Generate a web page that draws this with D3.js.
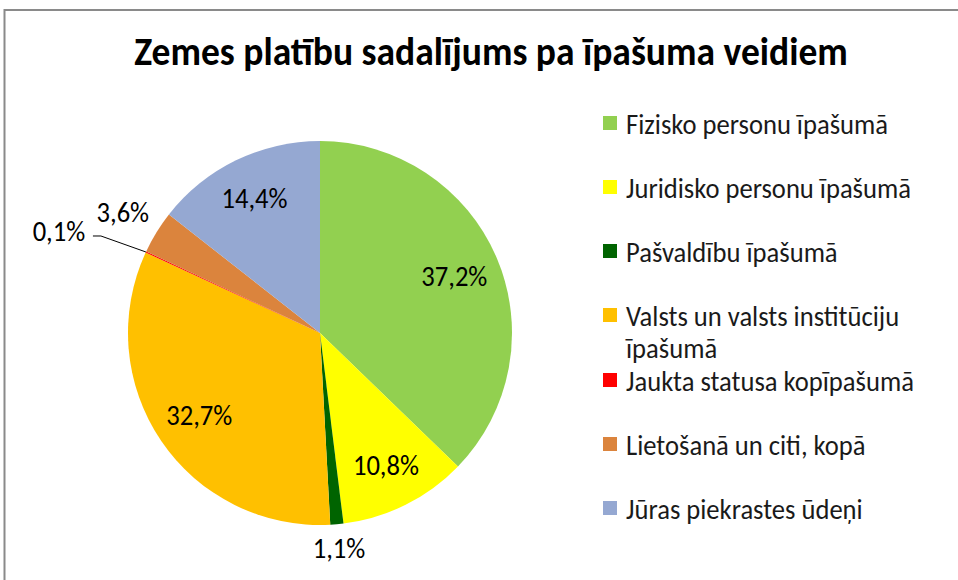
<!DOCTYPE html>
<html>
<head>
<meta charset="utf-8">
<script src="https://cdn.jsdelivr.net/npm/d3@7"></script>
<style>
  body { margin: 0; background: #fff; }
  svg { display: block; }
  text { font-family: Carlito, Lato, "Open Sans", sans-serif; fill: #000; }
</style>
</head>
<body>
<div id="chart"></div>
<script>
// data
const categories = [
  "Fizisko personu īpašumā",
  "Juridisko personu īpašumā",
  "Pašvaldību īpašumā",
  "Valsts un valsts institūciju īpašumā",
  "Jaukta statusa kopīpašumā",
  "Lietošanā un citi, kopā",
  "Jūras piekrastes ūdeņi"
];
const values = [37.2, 10.8, 1.1, 32.7, 0.1, 3.6, 14.4];
const valueLabels = ["37,2%", "10,8%", "1,1%", "32,7%", "0,1%", "3,6%", "14,4%"];
const colors = ["#92D050", "#FFFF00", "#006400", "#FFC000", "#FF0000", "#DB843D", "#95A8D2"];
// legend text lines (one item wraps)
const legendLines = [
  ["Fizisko personu īpašumā"],
  ["Juridisko personu īpašumā"],
  ["Pašvaldību īpašumā"],
  ["Valsts un valsts institūciju", "īpašumā"],
  ["Jaukta statusa kopīpašumā"],
  ["Lietošanā un citi, kopā"],
  ["Jūras piekrastes ūdeņi"]
];

const W = 958, H = 580;
const svg = d3.select("#chart").append("svg")
  .attr("width", W)
  .attr("height", H);

// frame (top and left edges are visible)
svg.append("path")
  .attr("d", "M4.5," + H + " V10 H" + W)
  .attr("fill", "none")
  .attr("stroke", "#8a8a8a")
  .attr("stroke-width", 2);

function measure(str, size, weight) {
  const t = svg.append("text")
    .style("font-size", size + "px")
    .style("font-weight", weight || "normal")
    .text(str);
  const w = t.node().getComputedTextLength();
  t.remove();
  return w;
}
// the reference font is narrower than ours: size for the width,
// then draw a bit taller and squeeze back to that width
const bodySize = 20 * 262 / measure("Fizisko personu īpašumā", 20);
const stretch = 1.05;

function addText(sel, str, size, weight) {
  const w = measure(str, size, weight);
  return sel.append("text")
    .style("font-size", (size * stretch) + "px")
    .style("font-weight", weight || "normal")
    .attr("textLength", w)
    .attr("lengthAdjust", "spacingAndGlyphs")
    .text(str);
}

// title
const titleStr = "Zemes platību sadalījums pa īpašuma veidiem";
const titleSize = 20 * 714 / measure(titleStr, 20, "bold");
addText(svg, titleStr, titleSize, "bold")
  .attr("x", 491)
  .attr("y", 65)
  .attr("text-anchor", "middle");

// pie
const cx = 320, cy = 333, r = 192;
const g = svg.append("g").attr("transform", "translate(" + cx + "," + cy + ")");

const pie = d3.pie().sort(null).value(d => d);
const arcs = pie(values);
const arc = d3.arc().innerRadius(0).outerRadius(r);

g.selectAll("path.slice")
  .data(arcs)
  .enter()
  .append("path")
  .attr("class", "slice")
  .attr("d", arc)
  .attr("fill", (d, i) => colors[i]);

// label radius as a fraction of r (outside labels for the thin slices)
const labelRadius = [0.76, 0.77, 1.125, 0.76, 1.0, 1.206, 0.78];

function labelPos(d, i) {
  const a = (d.startAngle + d.endAngle) / 2;
  const rr = r * labelRadius[i];
  return [rr * Math.sin(a), -rr * Math.cos(a)];
}

// leader line for the 0,1% slice
const edge = labelPos(arcs[4], 4);
g.append("polyline")
  .attr("points", [edge, [edge[0] - 45, edge[1] - 16], [edge[0] - 53, edge[1] - 16]].map(p => p.join(",")).join(" "))
  .attr("fill", "none")
  .attr("stroke", "#000")
  .attr("stroke-width", 1);

arcs.forEach((d, i) => {
  const p = i === 4 ? [edge[0] - 87, edge[1] - 21] : labelPos(d, i);
  addText(g, valueLabels[i], bodySize)
    .attr("x", p[0])
    .attr("y", p[1])
    .attr("text-anchor", "middle")
    .attr("dominant-baseline", "central");
});

// legend
const legendX = 603;
const legendY = [123, 187, 251, 315, 380, 444, 508];
const lineGap = 32;

const leg = svg.append("g");
categories.forEach((c, i) => {
  leg.append("rect")
    .attr("x", legendX)
    .attr("y", legendY[i] - 7)
    .attr("width", 14)
    .attr("height", 14)
    .attr("fill", colors[i]);
  legendLines[i].forEach((line, j) => {
    addText(leg, line, bodySize)
      .attr("x", legendX + 23)
      .attr("y", legendY[i] + j * lineGap + 1)
      .attr("dominant-baseline", "central")
      .style("fill", "#1a1a1a");
  });
});
</script>
</body>
</html>
